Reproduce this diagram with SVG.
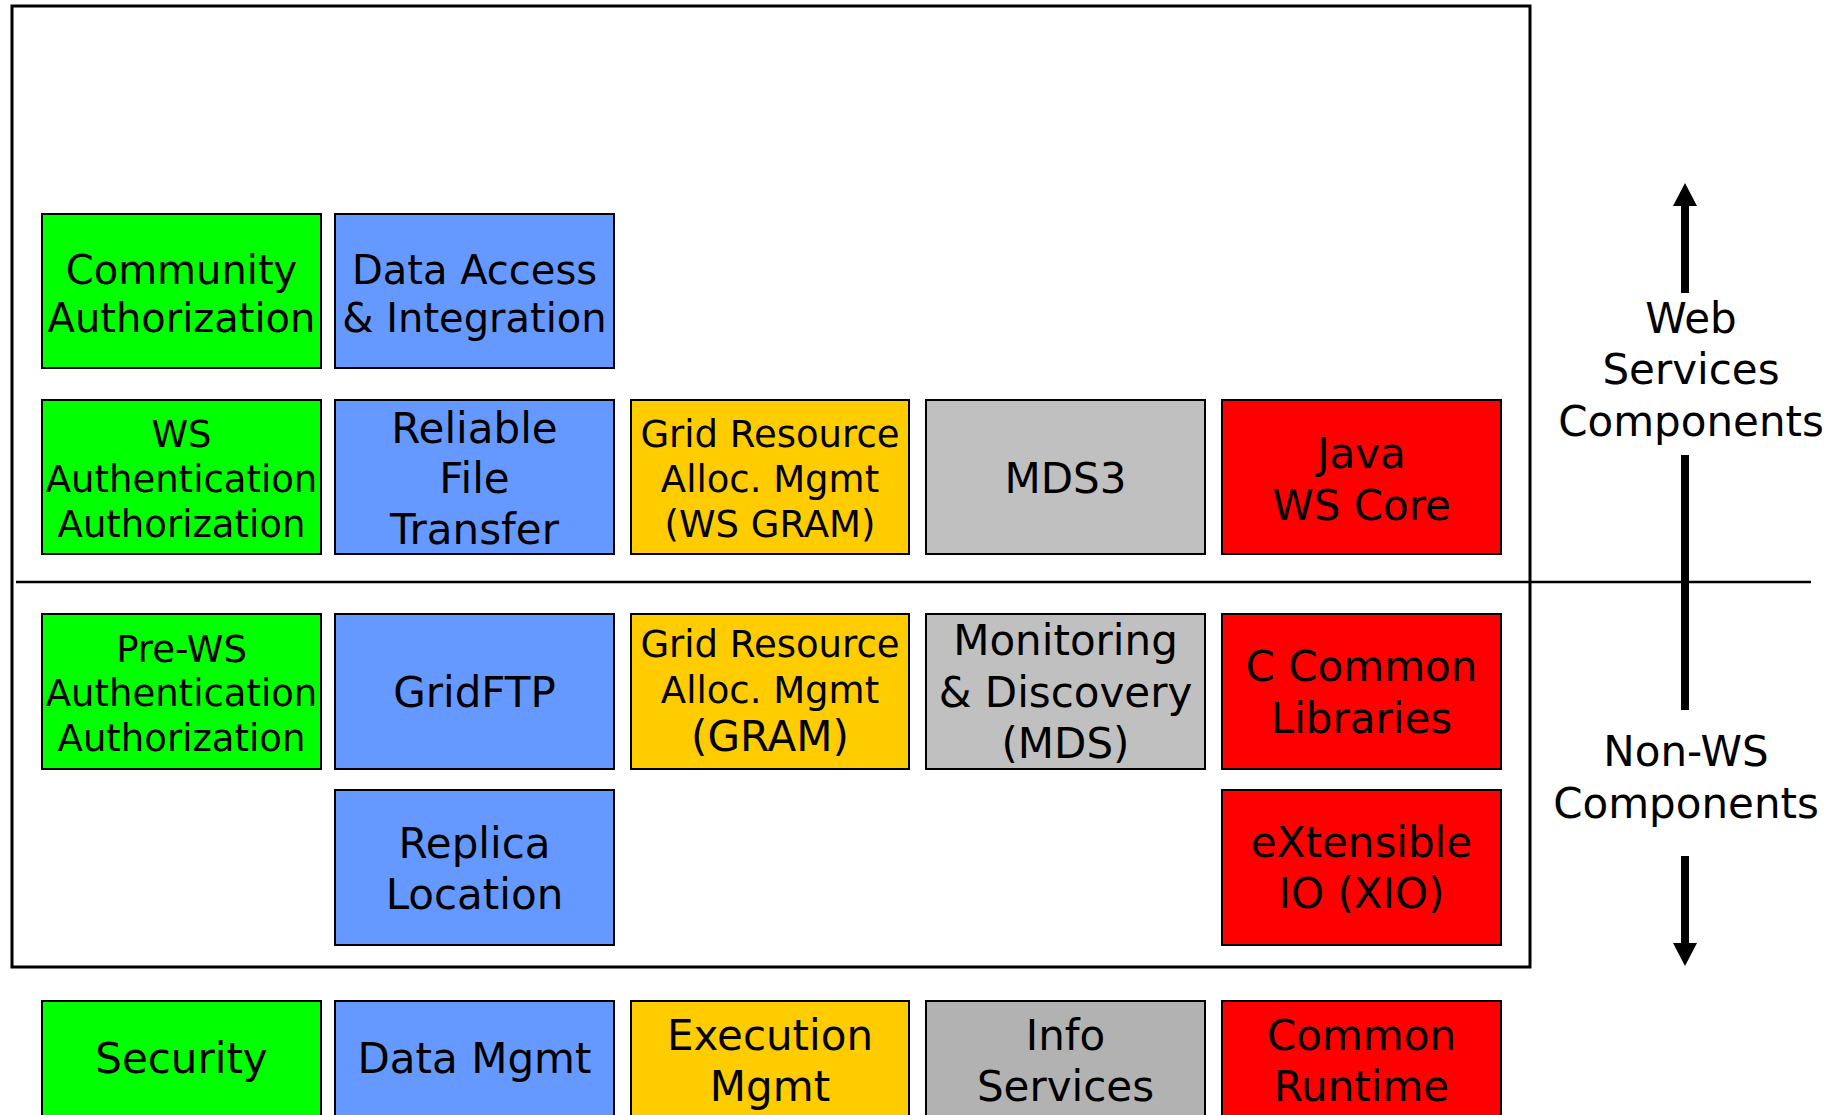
<svg xmlns="http://www.w3.org/2000/svg" width="1843" height="1115" viewBox="0 0 1843 1115">
<style>
.box{stroke:#000;stroke-width:2}
.g{fill:#00FF00}.b{fill:#6699FF}.y{fill:#FFCC00}.s{fill:#C0C0C0}.s2{fill:#B2B2B2}.r{fill:#FF0000}
text{font-family:"DejaVu Sans","Verdana",sans-serif;fill:#000;text-anchor:middle}
.f37{font-size:37px}.f40{font-size:40px}.f42{font-size:42px}
.frame{fill:none;stroke:#000;stroke-width:3}
.arr{fill:#000}
</style>
<rect width="1843" height="1115" fill="#fff"/>
<rect class="frame" x="12" y="6" width="1518" height="961"/>
<line x1="16" y1="582" x2="1811" y2="582" stroke="#000" stroke-width="2.5"/>

<g id="connectors">
  <polygon class="arr" points="1685,183 1697,206 1689,206 1689,293 1681,293 1681,206 1673,206"/>
  <rect class="arr" x="1681" y="455" width="8" height="255"/>
  <polygon class="arr" points="1681,856 1689,856 1689,943 1697,943 1685,966 1673,943 1681,943"/>
</g>

<g id="label-ws">
  <text class="f42" x="1691" y="333">Web</text>
  <text class="f42" x="1691" y="384">Services</text>
  <text class="f42" x="1691" y="436">Components</text>
</g>
<g id="label-nonws">
  <text class="f42" x="1686" y="766">Non-WS</text>
  <text class="f42" x="1686" y="818">Components</text>
</g>

<g id="community-auth">
  <rect class="box g" x="42" y="214" width="279" height="154"/>
  <text class="f40" x="181.5" y="284">Community</text>
  <text class="f40" x="181.5" y="332">Authorization</text>
</g>
<g id="data-access">
  <rect class="box b" x="335" y="214" width="279" height="154"/>
  <text class="f40" x="474.5" y="284">Data Access</text>
  <text class="f40" x="474.5" y="332">&amp; Integration</text>
</g>

<g id="ws-auth">
  <rect class="box g" x="42" y="400" width="279" height="154"/>
  <text class="f37" x="181.5" y="447">WS</text>
  <text class="f37" x="181.5" y="492">Authentication</text>
  <text class="f37" x="181.5" y="537">Authorization</text>
</g>
<g id="rft">
  <rect class="box b" x="335" y="400" width="279" height="154"/>
  <text class="f42" x="474.5" y="443">Reliable</text>
  <text class="f42" x="474.5" y="493">File</text>
  <text class="f42" x="474.5" y="544">Transfer</text>
</g>
<g id="ws-gram">
  <rect class="box y" x="631" y="400" width="278" height="154"/>
  <text class="f37" x="770" y="447">Grid Resource</text>
  <text class="f37" x="770" y="492">Alloc. Mgmt</text>
  <text class="f37" x="770" y="537">(WS GRAM)</text>
</g>
<g id="mds3">
  <rect class="box s" x="926" y="400" width="279" height="154"/>
  <text class="f42" x="1065.5" y="493">MDS3</text>
</g>
<g id="java-ws-core">
  <rect class="box r" x="1222" y="400" width="279" height="154"/>
  <text class="f42" x="1361.5" y="468">Java</text>
  <text class="f42" x="1361.5" y="520">WS Core</text>
</g>

<g id="pre-ws-auth">
  <rect class="box g" x="42" y="614" width="279" height="155"/>
  <text class="f37" x="181.5" y="662">Pre-WS</text>
  <text class="f37" x="181.5" y="706">Authentication</text>
  <text class="f37" x="181.5" y="751">Authorization</text>
</g>
<g id="gridftp">
  <rect class="box b" x="335" y="614" width="279" height="155"/>
  <text class="f42" x="474.5" y="707">GridFTP</text>
</g>
<g id="gram">
  <rect class="box y" x="631" y="614" width="278" height="155"/>
  <text class="f37" x="770" y="657">Grid Resource</text>
  <text class="f37" x="770" y="703">Alloc. Mgmt</text>
  <text class="f42" x="770" y="751">(GRAM)</text>
</g>
<g id="mds">
  <rect class="box s" x="926" y="614" width="279" height="155"/>
  <text class="f42" x="1065.5" y="655">Monitoring</text>
  <text class="f42" x="1065.5" y="707">&amp; Discovery</text>
  <text class="f42" x="1065.5" y="758">(MDS)</text>
</g>
<g id="c-common">
  <rect class="box r" x="1222" y="614" width="279" height="155"/>
  <text class="f42" x="1361.5" y="681">C Common</text>
  <text class="f42" x="1361.5" y="733">Libraries</text>
</g>

<g id="replica">
  <rect class="box b" x="335" y="790" width="279" height="155"/>
  <text class="f42" x="474.5" y="858">Replica</text>
  <text class="f42" x="474.5" y="909">Location</text>
</g>
<g id="xio">
  <rect class="box r" x="1222" y="790" width="279" height="155"/>
  <text class="f42" x="1361.5" y="857">eXtensible</text>
  <text class="f42" x="1361.5" y="908">IO (XIO)</text>
</g>

<g id="security">
  <rect class="box g" x="42" y="1001" width="279" height="155"/>
  <text class="f42" x="181.5" y="1073">Security</text>
</g>
<g id="data-mgmt">
  <rect class="box b" x="335" y="1001" width="279" height="155"/>
  <text class="f42" x="474.5" y="1073">Data Mgmt</text>
</g>
<g id="execution-mgmt">
  <rect class="box y" x="631" y="1001" width="278" height="155"/>
  <text class="f42" x="770" y="1050">Execution</text>
  <text class="f42" x="770" y="1101">Mgmt</text>
</g>
<g id="info-services">
  <rect class="box s2" x="926" y="1001" width="279" height="155"/>
  <text class="f42" x="1065.5" y="1050">Info</text>
  <text class="f42" x="1065.5" y="1101">Services</text>
</g>
<g id="common-runtime">
  <rect class="box r" x="1222" y="1001" width="279" height="155"/>
  <text class="f42" x="1361.5" y="1050">Common</text>
  <text class="f42" x="1361.5" y="1101">Runtime</text>
</g>
</svg>
